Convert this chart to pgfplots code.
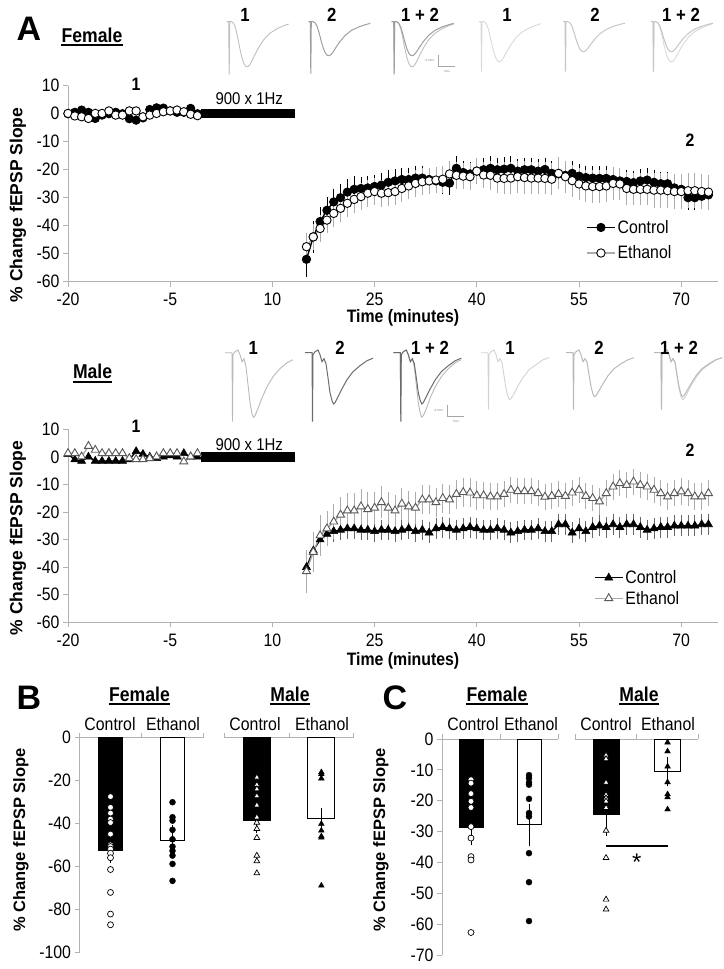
\documentclass[border=0pt]{standalone}
\usepackage{fontspec}
\setmainfont{Liberation Sans}
\newfontfamily\nf[FakeStretch=0.88]{Liberation Sans}
\usepackage{pgfplots}
\pgfplotsset{compat=1.18}
\usepackage{pgfplotstable}

% ---------- female time course ----------
\pgfplotstableread{
t c e
-20 0 0.1
-19 0.5 -0.8
-18 1.3 -1.1
-17 0.5 -1.7
-16 -1.7 0.1
-15 -0.5 0.1
-14 0 1
-13 0.5 -0.5
-12 0 -0.5
-11 -1.8 1
-10 -2.3 1
-9 -1.5 -1.1
-8 1.5 -0.5
-7 2.1 0.1
-6 2 0.7
-5 1 1
-4 0.5 1.3
-3 0.5 0.7
-2 1.9 -0.2
-1 0 -0.7
}\fbase
\pgfplotstableread{
t c ce e ee
15 -52 5 -47.5 3.5
16 -44 4.5 -44 3.5
17 -38.5 4 -41 3.5
18 -34.5 3.5 -38 3.5
19 -31.5 3.5 -35.6 3.5
20 -30 3.5 -33.8 3.5
21 -28 3.5 -32 3.5
22 -27 3.5 -30.6 3.5
23 -26.7 3 -29.6 3.5
24 -26.5 3 -28.4 3.5
25 -26 3 -27.8 3.5
26 -25.5 3 -28.4 3.5
27 -24.5 3 -28.2 3.5
28 -24 3 -27.8 3.5
29 -23.5 3 -26.7 3.5
30 -23.5 3 -25.8 3.5
31 -23 3 -24.9 3.5
32 -23 3 -24.3 3.5
33 -23.5 3 -24 3.5
34 -24 3 -23.7 3.5
35 -24.5 3 -23.4 3.5
36 -24.8 3 -21.5 3.5
37 -19.5 3 -22 3.5
38 -21 3 -22.3 3.5
39 -21.5 3 -22.5 3.5
40 -20.5 3 -20.5 3.5
41 -20 3 -21.9 3.5
42 -19.5 3 -22 4
43 -20 3 -23 4
44 -19.8 3 -23.1 4.5
45 -19.5 3 -23 4.5
46 -20.5 3 -22.5 4.5
47 -20 3 -22.8 4.5
48 -20 3 -23 4.5
49 -20.5 3 -23 4.5
50 -19.9 3 -23.1 4.5
51 -21.3 3 -23.4 4.5
52 -21.5 3 -21.3 4.5
53 -22 3 -22.5 4.5
54 -21.3 3 -23.9 4.5
55 -22.3 3 -25.1 4.5
56 -22.8 3 -25.8 4.5
57 -23 3 -26 4.5
58 -23.1 3 -26 4.5
59 -23.1 3 -25.8 4.5
60 -23.5 3 -24.9 4.5
61 -24 3 -25.1 4.5
62 -24.2 3 -26.7 4.5
63 -24.6 3 -27 4.5
64 -24 3 -27 4.5
65 -23.7 3 -27 4.5
66 -24.5 3 -27.3 5
67 -25 3 -27.3 5
68 -25 3 -27.5 5
69 -26.5 3 -27.8 5
70 -27 3 -27.8 5
71 -30 3 -27.5 5
72 -30 3 -27.5 5
73 -29.5 3 -27.8 5
74 -29 3 -28 5
}\fpost

% ---------- male time course ----------
\pgfplotstableread{
t c e
-20 1 1.3
-19 -1 1.3
-18 -1.5 0.1
-17 0 3.9
-16 -1.5 2.5
-15 -1.5 1.3
-14 -1.5 1.3
-13 -1.5 1.3
-12 -1.5 1.3
-11 -1 -0.5
-10 2 -0.9
-9 1 -0.9
-8 0 -0.5
-7 -0.5 0.1
-6 0 1.3
-5 0.5 1.3
-4 0 1.3
-3 1.3 -1.7
-2 0 0.1
-1 0 1.3
}\mbase
\pgfplotstableread{
t c ce e ee
15 -40 3 -41.5 6.5
16 -34 3 -34.5 6
17 -30 2.5 -28.5 6
18 -28 2.5 -26 5
19 -27 2.5 -23.5 5
20 -26.5 2.5 -21 5
21 -26 2.5 -19.5 5
22 -26 2.5 -19.5 5
23 -26.5 2.5 -18 5
24 -26.5 2.5 -19 5
25 -27 2.5 -18.5 4.5
26 -26.5 2.5 -16.5 4.5
27 -26.5 2.5 -18.5 4.5
28 -27 2.5 -19.5 4.5
29 -26.5 2.5 -17 4.5
30 -26 2.5 -18 4.5
31 -27 2.5 -18.5 4.5
32 -26.5 2.5 -15.5 4
33 -27.5 2.5 -15.5 4
34 -26 2.5 -16.5 4
35 -25.5 2.5 -15 4
36 -26 2.5 -15.5 4
37 -26.5 2.5 -13.5 4
38 -26 2.5 -12.8 4
39 -25.5 2.5 -13 4
40 -26 2.5 -14 4
41 -26.5 2.5 -14 3.5
42 -26.5 2.5 -14.4 3.5
43 -26 2.5 -14.4 3.5
44 -26.5 2.5 -13.5 3.5
45 -27.5 2.5 -12 3.5
46 -27 2.5 -12.5 3.5
47 -26.5 2.5 -12.5 3.5
48 -26.5 2.5 -12.5 3.5
49 -26 2.5 -13.2 3.5
50 -27 2.5 -14.5 3.5
51 -27 2.5 -14.2 3.5
52 -24.5 2.5 -13.5 3.5
53 -24.5 2.5 -14.2 3.5
54 -27.5 2.5 -13 3.5
55 -26 2.5 -12 3.5
56 -27 2.5 -14.2 3.5
57 -25.5 2.5 -15 3.5
58 -25 2.5 -16.2 3.5
59 -25.5 2.5 -13.2 3.5
60 -24.5 2.5 -10.8 3.5
61 -25.5 2.5 -9.6 3.5
62 -24.5 2.5 -10.2 3.5
63 -24.5 2.5 -9 3.5
64 -25.5 2.5 -10.2 3.5
65 -26.5 2.5 -10.8 3.5
66 -26 2.5 -12 3.5
67 -25.5 2.5 -13.2 3.5
68 -25.5 2.5 -14.4 3.5
69 -25 2.5 -13.2 3.5
70 -25 2.5 -12.6 3.5
71 -25 2.5 -13.2 3.5
72 -25 2.5 -14.4 3.5
73 -24.5 2.5 -14.4 3.5
74 -24.5 2.5 -13.2 3.5
}\mpost

% ---------- example traces ----------
\pgfplotstableread{
t c1 c2 e1 e2
0 0 0 0 0
2 0 0 0 0
2.5 -53 -52 -50 -50
3 0 0 0 0
5 0 0 0 0
7 -1.8 -1.4 -1.6 -1.2
9 -6.8 -5.1 -6 -4.5
11 -15.8 -11.9 -14 -10.5
13 -26.1 -19.7 -23.2 -17.4
15 -35.1 -26.5 -31.2 -23.4
17 -41.4 -31.3 -36.8 -27.6
19 -44.6 -33.7 -39.6 -29.7
21 -45 -34 -40 -30
23 -43.2 -32.6 -38.4 -28.8
25 -39.6 -29.9 -35.2 -26.4
28 -33.3 -25.2 -29.6 -22.2
32 -25.7 -19.4 -22.8 -17.1
37 -18 -13.6 -16 -12
43 -11.7 -8.8 -10.4 -7.8
50 -7.2 -5.4 -6.4 -4.8
58 -3.6 -2.7 -3.2 -2.4
62 -2.3 -1.7 -2 -1.5
}\ftrace
\pgfplotstableread{
t c1 c2 e1 e2
0 0 0 0 0
7 0 0 0 0
7.5 -69 -69 -57 -57
8 -2 -2 -2 -2
10 1 1 1 1
13 2.7 2.7 2.7 2.7
15 -2 -2 -2 -2
17 -9 -9 -9 -9
19 -6 -6 -6 -6
21 -14 -11 -10 -9.5
23 -32 -25 -23 -22
25 -50 -40 -36 -34
27 -61 -48 -44 -41.5
28.5 -64.6 -51.3 -47 -44
30 -63 -50 -46 -43
33 -56 -44 -41 -38
37 -45 -36 -33 -31
42 -34 -27 -25 -23
48 -24 -19 -17 -16
55 -16 -13 -12 -11
62 -10 -8 -7 -7
68 -7 -5.5 -5 -5
}\mtrace

% ---------- bar panels ----------
\pgfplotstableread{
x y
0.5 -27.5
0.5 -32.5
0.5 -35.2
0.5 -38
0.5 -39.6
0.5 -45
0.5 -50
0.5 -50.8
0.5 -52
0.5 -53.9
0.5 -56
0.5 -61.5
0.5 -72.2
0.5 -82.3
0.5 -87.3
}\bfc
\pgfplotstableread{
x y
1.5 -30.1
1.5 -37.1
1.5 -38.7
1.5 -43
1.5 -47.4
1.5 -50.8
1.5 -52.8
1.5 -55
1.5 -58.9
1.5 -66.8
}\bfe
\pgfplotstableread{
x y
0.5 -18.5
0.5 -22
0.5 -24
0.5 -27.2
0.5 -31.5
0.5 -37.1
0.5 -39.6
0.5 -42.5
0.5 -46.7
0.5 -55
0.5 -57.6
0.5 -63.2
}\bmc
\pgfplotstableread{
x y
1.5 -16.1
1.5 -17
1.5 -19
1.5 -40.2
1.5 -43.3
1.5 -46
1.5 -46.6
1.5 -69
}\bme
\pgfplotstableread{
x y
0.5 -13.2
0.5 -14.3
0.5 -17.7
0.5 -20.2
0.5 -22.2
0.5 -28.4
0.5 -32.1
0.5 -38.1
0.5 -39.2
0.5 -62.7
}\cfc
\pgfplotstableread{
x y
1.5 -11.7
1.5 -12.7
1.5 -14.1
1.5 -14.8
1.5 -19.4
1.5 -24
1.5 -25.1
1.5 -37
1.5 -46.4
1.5 -59
}\cfe
\pgfplotstableread{
x y
0.5 -5.3
0.5 -6.5
0.5 -14.1
0.5 -18.1
0.5 -19.2
0.5 -20.2
0.5 -22.3
0.5 -29.7
0.5 -38.5
0.5 -52
0.5 -55.2
}\cmc
\pgfplotstableread{
x y
1.5 -1.1
1.5 -4
1.5 -8.9
1.5 -14
1.5 -17.9
1.5 -18.9
1.5 -22.8
}\cme

\newcommand{\fs}[1]{\fontsize{#1}{#1}\selectfont}

\pgfplotsset{
  tcax/.style={scale only axis, anchor=south west, width=650pt,
    xmin=-20, xmax=75.4, ymin=-60, ymax=10,
    axis x line=bottom, axis y line=left,
    axis line style={-, draw=gray!60, line width=1pt},
    tick style={draw=gray!60, line width=1pt}, tick align=outside,
    major tick length=5pt,
    xtick={-20,-5,...,70}, ytick={-60,-50,...,10},
    ticklabel style={font=\nf\fs{18}, text=black},
    xticklabel style={yshift=-3pt},
    /pgf/number format/assume math mode=true,
    clip=false,
    legend cell align=left,
    legend image code/.code={\draw[##1, mark repeat=2, mark phase=2] plot coordinates {(0pt,0pt) (14pt,0pt) (28pt,0pt)};},
  },
  ebars/.style={error bars/.cd, y dir=both, y explicit, error mark=-,
    error bar style={line width=0.8pt, #1},
    error mark options={line width=0.8pt, #1, mark size=3.5pt}},
  ctrlF/.style={black, line width=1.4pt, mark=*, mark size=4.2pt, mark options={fill=black, draw=black, line width=0.8pt}},
  ethF/.style={gray!65, line width=1.4pt, mark=*, mark size=4.2pt, mark options={fill=white, draw=black, line width=0.9pt}},
  ctrlM/.style={black, line width=1.4pt, mark=triangle*, mark size=4.6pt, mark options={fill=black, draw=black, line width=0.6pt}},
  ethM/.style={gray!65, line width=1.4pt, mark=triangle*, mark size=4.6pt, mark options={fill=white, draw=gray!70!black, line width=0.9pt}},
  trace/.style={hide axis, scale only axis, anchor=south west, width=70pt, height=80pt,
    xmin=0, xmax=70, ymin=-75, ymax=5, clip=false},
  bcax/.style={scale only axis, anchor=south west, xmin=0, xmax=2, ymax=0,
    axis x line=top, axis y line=left,
    axis line style={-, draw=gray!60, line width=1pt},
    tick style={draw=gray!60, line width=1pt},
    xtick={0,1,2}, xticklabels={},
    major tick length=5pt, tick align=outside,
    ticklabel style={font=\nf\fs{18}, text=black},
    /pgf/number format/assume math mode=true,
    clip=false},
  ctrlbar/.style={ybar, bar width=#1, bar shift=0pt, fill=black, draw=black, line width=1pt,
    error bars/.cd, y dir=both, y explicit, error mark=-, error bar style={black, line width=1pt},
    error mark options={black, line width=1pt, mark size=4pt}},
  ethbar/.style={ybar, bar width=#1, bar shift=0pt, fill=white, draw=black, line width=1pt,
    error bars/.cd, y dir=both, y explicit, error mark=-, error bar style={black, line width=1pt},
    error mark options={black, line width=1pt, mark size=4pt}},
  dotO/.style={only marks, mark=*, mark size=3pt, mark options={fill=white, draw=black, line width=0.7pt}},
  dotF/.style={only marks, mark=*, mark size=3pt, mark options={fill=black, draw=black}},
  triO/.style={only marks, mark=triangle*, mark size=3.3pt, mark options={fill=white, draw=black, line width=0.7pt}},
  triF/.style={only marks, mark=triangle*, mark size=3.3pt, mark options={fill=black, draw=black}},
}

\begin{document}
\begin{tikzpicture}
\path[use as bounding box] (0,0) rectangle (723pt,-969pt);

% ================= Panel A : female =================
\node[font=\bfseries\fs{34}] at (29pt,-29pt) {A};
\node[font=\nf\bfseries\fs{20}, inner sep=0pt] (fa) at (92pt,-35pt) {Female};
\draw[line width=1.6pt] ([yshift=-3pt]fa.base west) -- ([yshift=-3pt]fa.base east);

% traces female
\begin{axis}[trace, at={(226.7pt,-96.7pt)}]
\addplot[gray!50, line width=0.9pt] table[x=t,y=c1]{\ftrace};
\end{axis}
\begin{axis}[trace, at={(308.3pt,-96.7pt)}]
\addplot[gray!75, line width=1pt] table[x=t,y=c2]{\ftrace};
\end{axis}
\begin{axis}[trace, at={(391.7pt,-96.7pt)}]
\addplot[gray!50, line width=0.9pt] table[x=t,y=c1]{\ftrace};
\addplot[gray!75, line width=1pt] table[x=t,y=c2]{\ftrace};
\end{axis}
\begin{axis}[trace, at={(479pt,-96.7pt)}]
\addplot[gray!30, line width=0.9pt] table[x=t,y=e1]{\ftrace};
\end{axis}
\begin{axis}[trace, at={(563pt,-96.7pt)}]
\addplot[gray!45, line width=1pt] table[x=t,y=e2]{\ftrace};
\end{axis}
\begin{axis}[trace, at={(651pt,-96.7pt)}]
\addplot[gray!30, line width=0.9pt] table[x=t,y=e1]{\ftrace};
\addplot[gray!45, line width=1pt] table[x=t,y=e2]{\ftrace};
\end{axis}
\foreach \x/\s in {245/1, 331.7/2, 420/{1 + 2}, 507/1, 595/2, 681/{1 + 2}}{
  \node[font=\nf\bfseries\fs{19}] at (\x pt,-15pt) {\s};
}
\draw[gray!70, line width=0.6pt] (438.3pt,-55pt) -- (438.3pt,-66.7pt) -- (455pt,-66.7pt);
\node[font=\fs{3}, text=gray] at (430pt,-60pt) {0.2mV};
\node[font=\fs{3}, text=gray] at (447pt,-71pt) {5ms};

\begin{axis}[tcax, at={(68pt,-281.7pt)}, height=196pt,
  legend style={draw=none, fill=none, inner sep=0pt, at={(0.797,0.325)}, anchor=north west,
    font=\nf\fs{18}, row sep=7pt}]
\addplot[ctrlF, ebars=black] table[x=t,y=c,y error=ce]{\fpost};
\addplot[ethF, ebars=gray!65] table[x=t,y=e,y error=ee]{\fpost};
\addplot[forget plot, black, line width=9.5pt] coordinates {(-0.5,0) (13.3,0)};
\addplot[ctrlF, forget plot] table[x=t,y=c]{\fbase};
\addplot[ethF, forget plot] table[x=t,y=e]{\fbase};
\legend{Control, Ethanol}
\node[font=\nf\bfseries\fs{18}] at (axis cs:-10,10.6) {1};
\node[font=\nf\fs{17}] at (axis cs:6.6,5.5) {900 x 1Hz};
\node[font=\nf\bfseries\fs{18}] at (axis cs:71.3,-9.4) {2};
\end{axis}
\node[font=\nf\bfseries\fs{18}] at (403pt,-318pt) {Time (minutes)};
\node[font=\bfseries\fs{17.5}, rotate=90] at (18pt,-205pt) {\% Change fEPSP Slope};

% ================= Panel A : male =================
\node[font=\nf\bfseries\fs{20}, inner sep=0pt] (ma) at (92.6pt,-371.7pt) {Male};
\draw[line width=1.6pt] ([yshift=-3pt]ma.base west) -- ([yshift=-3pt]ma.base east);

\begin{axis}[trace, at={(225pt,-427.7pt)}]
\addplot[gray!55, line width=0.9pt] table[x=t,y=c1]{\mtrace};
\end{axis}
\begin{axis}[trace, at={(305pt,-427.7pt)}]
\addplot[gray!85!black, line width=1pt] table[x=t,y=c2]{\mtrace};
\end{axis}
\begin{axis}[trace, at={(393.3pt,-427.7pt)}]
\addplot[gray!55, line width=0.9pt] table[x=t,y=c1]{\mtrace};
\addplot[gray!85!black, line width=1pt] table[x=t,y=c2]{\mtrace};
\end{axis}
\begin{axis}[trace, at={(481pt,-427.7pt)}]
\addplot[gray!35, line width=0.9pt] table[x=t,y=e1]{\mtrace};
\end{axis}
\begin{axis}[trace, at={(566pt,-427.7pt)}]
\addplot[gray!55, line width=1pt] table[x=t,y=e2]{\mtrace};
\end{axis}
\begin{axis}[trace, at={(654pt,-427.7pt)}]
\addplot[gray!35, line width=0.9pt] table[x=t,y=e1]{\mtrace};
\addplot[gray!55, line width=1pt] table[x=t,y=e2]{\mtrace};
\end{axis}
\foreach \x/\s in {253.3/1, 340/2, 430/{1 + 2}, 510/1, 599/2, 679/{1 + 2}}{
  \node[font=\nf\bfseries\fs{19}] at (\x pt,-348.3pt) {\s};
}
\draw[gray!70, line width=0.6pt] (447.7pt,-405pt) -- (447.7pt,-416.7pt) -- (464.3pt,-416.7pt);
\node[font=\fs{3}, text=gray] at (439pt,-410pt) {0.2mV};
\node[font=\fs{3}, text=gray] at (456pt,-421pt) {5ms};

\begin{axis}[tcax, at={(68pt,-622.3pt)}, height=193pt,
  legend style={draw=none, fill=none, inner sep=0pt, at={(0.809,0.28)}, anchor=north west,
    font=\nf\fs{18}, row sep=2pt}]
\addplot[ctrlM, ebars=gray!80!black] table[x=t,y=c,y error=ce]{\mpost};
\addplot[ethM, ebars=gray!65] table[x=t,y=e,y error=ee]{\mpost};
\addplot[forget plot, black, line width=9.5pt] coordinates {(-0.5,0) (13.3,0)};
\addplot[ctrlM, forget plot] table[x=t,y=c]{\mbase};
\addplot[ethM, forget plot] table[x=t,y=e]{\mbase};
\legend{Control, Ethanol}
\node[font=\nf\bfseries\fs{18}] at (axis cs:-10,11.2) {1};
\node[font=\nf\fs{17}] at (axis cs:6.6,4.3) {900 x 1Hz};
\node[font=\nf\bfseries\fs{18}] at (axis cs:71.3,2.5) {2};
\end{axis}
\node[font=\nf\bfseries\fs{18}] at (403pt,-661pt) {Time (minutes)};
\node[font=\bfseries\fs{17.5}, rotate=90] at (18pt,-538pt) {\% Change fEPSP Slope};

% ================= Panel B =================
\node[font=\bfseries\fs{34}] at (29pt,-698pt) {B};
\node[font=\nf\bfseries\fs{20}, inner sep=0pt] (bf) at (139.5pt,-694pt) {Female};
\draw[line width=1.6pt] ([yshift=-3pt]bf.base west) -- ([yshift=-3pt]bf.base east);
\node[font=\nf\bfseries\fs{20}, inner sep=0pt] (bm) at (290pt,-694pt) {Male};
\draw[line width=1.6pt] ([yshift=-3pt]bm.base west) -- ([yshift=-3pt]bm.base east);
\foreach \x/\s in {110/Control, 173/Ethanol, 255/Control, 322/Ethanol}{
  \node[font=\nf\fs{18}] at (\x pt,-724pt) {\s};
}
\node[font=\bfseries\fs{16.5}, rotate=90] at (21pt,-840pt) {\% Change fEPSP Slope};

\begin{axis}[bcax, at={(79.5pt,-952pt)}, width=124pt, height=214.3pt, ymin=-100,
  ytick={-100,-80,...,0}]
\addplot[ctrlbar=24pt] coordinates {(0.5,-52.6) +- (0,4)};
\addplot[ethbar=24pt] coordinates {(1.5,-48.1) +- (0,5.5)};
\addplot[dotO] table[x=x,y=y]{\bfc};
\addplot[dotF] table[x=x,y=y]{\bfe};
\end{axis}
\begin{axis}[bcax, at={(224.6pt,-952pt)}, width=129pt, height=214.3pt, ymin=-100,
  axis y line=none]
\addplot[ctrlbar=27pt] coordinates {(0.5,-38.7) +- (0,4)};
\addplot[ethbar=27pt] coordinates {(1.5,-37.7) +- (0,3.2)};
\addplot[triO] table[x=x,y=y]{\bmc};
\addplot[triF] table[x=x,y=y]{\bme};
\end{axis}

% ================= Panel C =================
\node[font=\bfseries\fs{34}] at (395pt,-698pt) {C};
\node[font=\nf\bfseries\fs{20}, inner sep=0pt] (cf) at (497pt,-694pt) {Female};
\draw[line width=1.6pt] ([yshift=-3pt]cf.base west) -- ([yshift=-3pt]cf.base east);
\node[font=\nf\bfseries\fs{20}, inner sep=0pt] (cm) at (639pt,-694pt) {Male};
\draw[line width=1.6pt] ([yshift=-3pt]cm.base west) -- ([yshift=-3pt]cm.base east);
\foreach \x/\s in {473/Control, 531/Ethanol, 606/Control, 668/Ethanol}{
  \node[font=\nf\fs{18}] at (\x pt,-724pt) {\s};
}
\node[font=\bfseries\fs{16.5}, rotate=90] at (381pt,-840pt) {\% Change fEPSP Slope};

\begin{axis}[bcax, at={(442pt,-955pt)}, width=116pt, height=216pt, ymin=-70,
  ytick={-70,-60,...,0}]
\addplot[ctrlbar=24pt] coordinates {(0.5,-28.7) +- (0,4.5)};
\addplot[ethbar=24pt] coordinates {(1.5,-27.8) +- (0,5.6)};
\addplot[dotO] table[x=x,y=y]{\cfc};
\addplot[dotF] table[x=x,y=y]{\cfe};
\end{axis}
\begin{axis}[bcax, at={(575.3pt,-955pt)}, width=123pt, height=216pt, ymin=-70,
  axis y line=none]
\addplot[ctrlbar=26pt] coordinates {(0.5,-24.6) +- (0,5.4)};
\addplot[ethbar=26pt] coordinates {(1.5,-10.5) +- (0,3.3)};
\addplot[triO] table[x=x,y=y]{\cmc};
\addplot[triF] table[x=x,y=y]{\cme};
\addplot[black, line width=1.8pt] coordinates {(0.5,-34.6) (1.5,-34.6)};
\node[font=\fs{24}] at (axis cs:1,-39.8) {*};
\end{axis}
\end{tikzpicture}
\end{document}
